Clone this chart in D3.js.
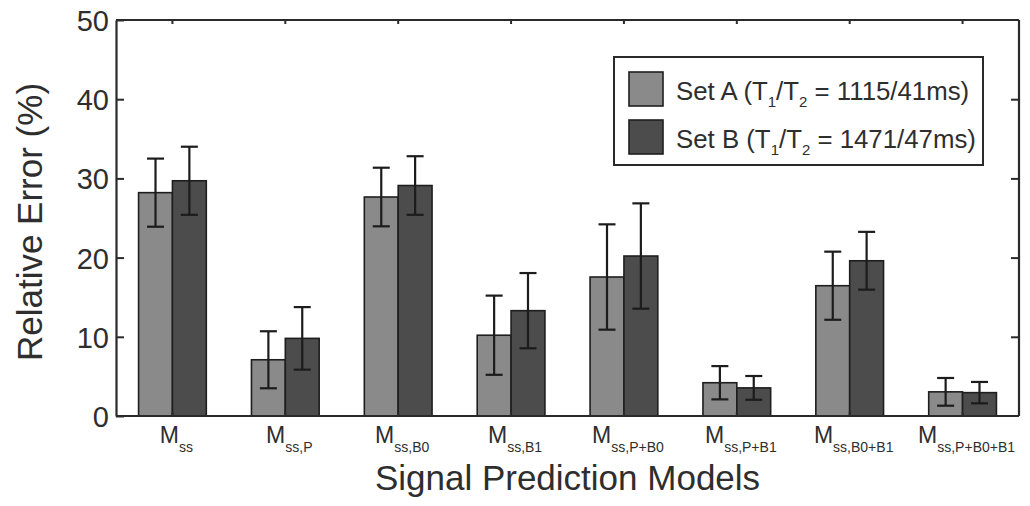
<!DOCTYPE html>
<html>
<head>
<meta charset="utf-8">
<script src="https://cdn.jsdelivr.net/npm/d3@7/dist/d3.min.js"></script>
<style>
  html, body { margin: 0; padding: 0; background: #ffffff; }
  svg { display: block; font-family: "Liberation Sans", Arial, Helvetica, sans-serif; }
</style>
</head>
<body>
<svg id="chart" width="1030" height="506"></svg>
<script>
// ---- data ----
const categories = ["ss", "ss,P", "ss,B0", "ss,B1", "ss,P+B0", "ss,P+B1", "ss,B0+B1", "ss,P+B0+B1"];
const seriesNames = ["Set A", "Set B"];
const setA = [28.2, 7.1, 27.65, 10.2, 17.55, 4.2, 16.45, 3.05];
const setAErr = [4.3, 3.6, 3.7, 5.0, 6.65, 2.1, 4.3, 1.75];
const setB = [29.7, 9.8, 29.1, 13.3, 20.2, 3.55, 19.6, 2.95];
const setBErr = [4.3, 3.95, 3.7, 4.75, 6.65, 1.5, 3.65, 1.35];
const yTicks = [0, 10, 20, 30, 40, 50];
const legendLabels = [
  { main: "Set A (T", parts: ["1", "/T", "2", " = 1115/41ms)"] },
  { main: "Set B (T", parts: ["1", "/T", "2", " = 1471/47ms)"] }
];
const colors = ["#8a8a8a", "#4c4c4c"];

const svg = d3.select("#chart");
const pLeft = 116, pRight = 1019, pTop = 20, pBottom = 416;
const axisColor = "#2a2a2a";
const textColor = "#2e2e2e";

const x = d3.scaleBand().domain(categories).range([pLeft, pRight]).padding(0);
const bw = x.bandwidth();
const xs = d3.scaleBand().domain(seriesNames).range([bw * 0.2, bw * 0.8]).padding(0);
const y = d3.scaleLinear().domain([0, 50]).range([pBottom, pTop]);

const rows = categories.map((c, i) => ({
  cat: c,
  vals: [
    { s: "Set A", v: setA[i], e: setAErr[i], color: colors[0] },
    { s: "Set B", v: setB[i], e: setBErr[i], color: colors[1] }
  ]
}));

// bars
const g = svg.append("g");
const groups = g.selectAll("g.grp").data(rows).join("g")
  .attr("class", "grp")
  .attr("transform", d => `translate(${x(d.cat)},0)`);

groups.selectAll("rect").data(d => d.vals).join("rect")
  .attr("x", d => xs(d.s))
  .attr("width", xs.bandwidth())
  .attr("y", d => y(d.v))
  .attr("height", d => y(0) - y(d.v))
  .attr("fill", d => d.color)
  .attr("stroke", "#1e1e1e")
  .attr("stroke-width", 1.6);

// error bars
const capW = 8.5;
const eb = groups.selectAll("g.eb").data(d => d.vals).join("g").attr("class", "eb")
  .attr("stroke", "#1c1c1c").attr("stroke-width", 2.2);
eb.append("line")
  .attr("x1", d => xs(d.s) + xs.bandwidth() / 2)
  .attr("x2", d => xs(d.s) + xs.bandwidth() / 2)
  .attr("y1", d => y(d.v - d.e))
  .attr("y2", d => y(d.v + d.e));
eb.append("line")
  .attr("x1", d => xs(d.s) + xs.bandwidth() / 2 - capW)
  .attr("x2", d => xs(d.s) + xs.bandwidth() / 2 + capW)
  .attr("y1", d => y(d.v + d.e))
  .attr("y2", d => y(d.v + d.e));
eb.append("line")
  .attr("x1", d => xs(d.s) + xs.bandwidth() / 2 - capW)
  .attr("x2", d => xs(d.s) + xs.bandwidth() / 2 + capW)
  .attr("y1", d => y(d.v - d.e))
  .attr("y2", d => y(d.v - d.e));

// axes
const yTick = 8, xTick = 4;
const yAxisL = svg.append("g").attr("transform", `translate(${pLeft},0)`)
  .call(d3.axisLeft(y).tickValues(yTicks).tickSizeInner(-yTick).tickSizeOuter(0).tickPadding(7));
const yAxisR = svg.append("g").attr("transform", `translate(${pRight},0)`)
  .call(d3.axisRight(y).tickValues(yTicks.slice(1, -1)).tickSizeInner(-yTick).tickSizeOuter(0).tickFormat(""));
const xAxisT = svg.append("g").attr("transform", `translate(0,${pTop})`)
  .call(d3.axisTop(x).tickSizeInner(-xTick).tickSizeOuter(0).tickFormat(""));
const xAxisB = svg.append("g").attr("transform", `translate(0,${pBottom})`)
  .call(d3.axisBottom(x).tickSizeInner(-xTick).tickSizeOuter(0).tickPadding(27).tickFormat(""));

[yAxisL, yAxisR, xAxisT, xAxisB].forEach(a => {
  a.selectAll("path.domain").attr("stroke", axisColor).attr("stroke-width", 2.2);
  a.selectAll(".tick line").attr("stroke", axisColor).attr("stroke-width", 2);
});
yAxisR.selectAll("path.domain").attr("d", `M0,${pTop}V${pBottom}`);
xAxisT.selectAll("path.domain").attr("d", `M${pLeft},0H${pRight}`);
xAxisB.selectAll("path.domain").attr("d", `M${pLeft},0H${pRight}`);

yAxisL.selectAll(".tick text")
  .attr("font-size", 29)
  .attr("fill", textColor)
  .attr("dy", "0.36em")
  .attr("font-family", "'Liberation Sans', Arial, sans-serif");

// x tick labels with subscripts
xAxisB.selectAll(".tick").each(function(d) {
  const t = d3.select(this).select("text")
    .attr("x", 4)
    .attr("y", 27).attr("dy", null)
    .attr("fill", textColor)
    .attr("font-family", "'Liberation Sans', Arial, sans-serif")
    .attr("text-anchor", "middle");
  t.text(null);
  t.append("tspan").attr("font-size", 23).text("M");
  t.append("tspan").attr("font-size", 14).attr("dy", 9).text(d);
});

// axis titles
svg.append("text")
  .attr("x", (pLeft + pRight) / 2)
  .attr("y", 490)
  .attr("text-anchor", "middle")
  .attr("font-size", 35)
  .attr("fill", textColor)
  .text("Signal Prediction Models");

svg.append("text")
  .attr("transform", `translate(42,${(pTop + pBottom) / 2 + 4}) rotate(-90)`)
  .attr("text-anchor", "middle")
  .attr("font-size", 35)
  .attr("fill", textColor)
  .text("Relative Error (%)");

// legend
const lg = svg.append("g");
lg.append("rect")
  .attr("x", 614).attr("y", 57).attr("width", 369).attr("height", 108)
  .attr("fill", "#ffffff").attr("stroke", axisColor).attr("stroke-width", 2);
legendLabels.forEach((l, i) => {
  const yy = 72 + i * 48;
  lg.append("rect")
    .attr("x", 629).attr("y", yy).attr("width", 34).attr("height", 34)
    .attr("fill", colors[i]).attr("stroke", "#1e1e1e").attr("stroke-width", 1.6);
  const t = lg.append("text")
    .attr("x", 676).attr("y", yy + 28)
    .attr("font-size", 25.8).attr("fill", textColor);
  t.append("tspan").text(l.main);
  t.append("tspan").attr("font-size", 15).attr("dy", 7).text(l.parts[0]);
  t.append("tspan").attr("dy", -7).text(l.parts[1]);
  t.append("tspan").attr("font-size", 15).attr("dy", 7).text(l.parts[2]);
  t.append("tspan").attr("dy", -7).text(l.parts[3]);
});
</script>
</body>
</html>
